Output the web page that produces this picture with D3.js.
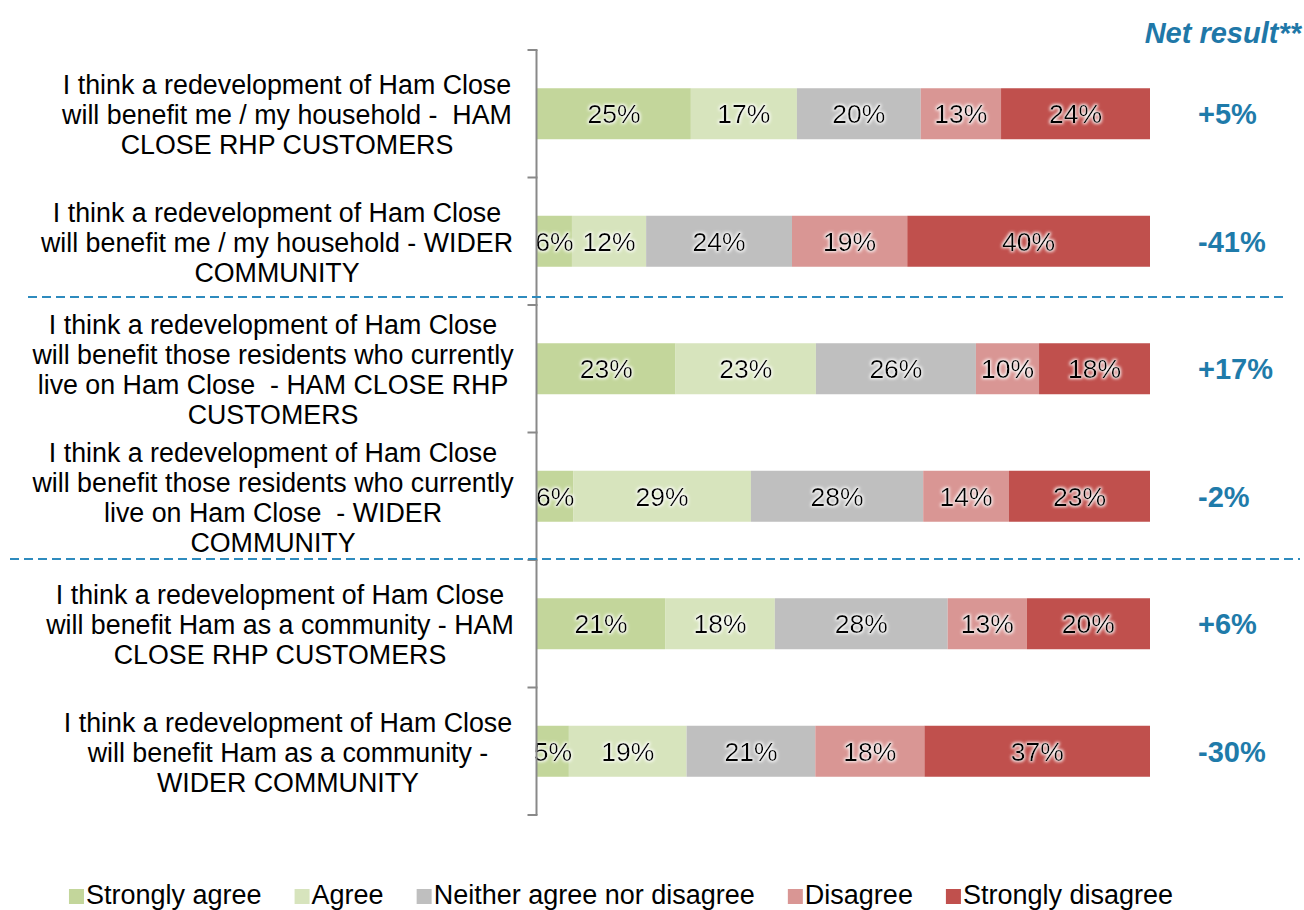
<!DOCTYPE html>
<html>
<head>
<meta charset="utf-8">
<script src="https://cdn.jsdelivr.net/npm/d3@7"></script>
<style>
  body { margin: 0; background: #fff; }
  svg { font-family: "Liberation Sans", Arial, sans-serif; }
</style>
</head>
<body>
<svg id="chart"></svg>
<script>
// statements (already wrapped as in the slide)
const categories = [
  ["I think a redevelopment of Ham Close", "will benefit me / my household -  HAM", "CLOSE RHP CUSTOMERS"],
  ["I think a redevelopment of Ham Close", "will benefit me / my household - WIDER", "COMMUNITY"],
  ["I think a redevelopment of Ham Close", "will benefit those residents who currently", "live on Ham Close  - HAM CLOSE RHP", "CUSTOMERS"],
  ["I think a redevelopment of Ham Close", "will benefit those residents who currently", "live on Ham Close  - WIDER", "COMMUNITY"],
  ["I think a redevelopment of Ham Close", "will benefit Ham as a community - HAM", "CLOSE RHP CUSTOMERS"],
  ["I think a redevelopment of Ham Close", "will benefit Ham as a community -", "WIDER COMMUNITY"]
];

const seriesNames = ["Strongly agree", "Agree", "Neither agree nor disagree", "Disagree", "Strongly disagree"];
const seriesColors = ["#C3D69B", "#D7E4BD", "#BFBFBF", "#D99694", "#C0504D"];

const stronglyAgree    = [25.1, 5.7, 22.6, 5.9, 20.9, 5.2];
const agree            = [17.3, 12.1, 22.9, 29.0, 17.9, 19.2];
const neither          = [20.2, 23.8, 26.1, 28.1, 28.2, 21.0];
const disagree         = [13.1, 18.8, 10.3, 14.0, 12.9, 17.8];
const stronglyDisagree = [24.3, 39.6, 18.1, 23.0, 20.1, 36.8];

const netResult = [5, -41, 17, -2, 6, -30];

const width = 1304, height = 910;

const svg = d3.select("#chart").attr("width", width).attr("height", height);

// glow behind the bar labels
const defs = svg.append("defs");
const glow = defs.append("filter").attr("id", "glow").attr("x", "-20%").attr("y", "-30%").attr("width", "140%").attr("height", "160%");
glow.append("feMorphology").attr("in", "SourceAlpha").attr("operator", "dilate").attr("radius", 1.3).attr("result", "d");
glow.append("feGaussianBlur").attr("in", "d").attr("stdDeviation", 1.4).attr("result", "b");
glow.append("feFlood").attr("flood-color", "#fff").attr("flood-opacity", 0.9);
glow.append("feComposite").attr("in2", "b").attr("operator", "in").attr("result", "w");
const m = glow.append("feMerge");
m.append("feMergeNode").attr("in", "w");
m.append("feMergeNode").attr("in", "SourceGraphic");

const rows = categories.map((c, i) => ({
  idx: i,
  values: [stronglyAgree[i], agree[i], neither[i], disagree[i], stronglyDisagree[i]]
}));

const x = d3.scaleLinear().domain([0, 100]).range([537, 1150]);
const y = d3.scaleBand().domain(d3.range(categories.length)).range([50, 815]).paddingInner(0).paddingOuter(0);
const barH = y.bandwidth() * 0.4;

// bars
const rowG = svg.selectAll("g.row").data(rows).enter().append("g").attr("class", "row");

rowG.each(function (r) {
  let acc = 0;
  const segs = r.values.map((v, k) => {
    const s = { start: acc, v: v, k: k };
    acc += v;
    return s;
  });
  const g = d3.select(this);
  const cy = y(r.idx) + y.bandwidth() / 2;
  g.selectAll("rect").data(segs).enter().append("rect")
    .attr("x", d => x(d.start))
    .attr("y", cy - barH / 2)
    .attr("width", d => x(d.start + d.v) - x(d.start))
    .attr("height", barH)
    .attr("fill", d => seriesColors[d.k]);
  g.selectAll("text.val").data(segs).enter().append("text")
    .attr("class", "val")
    .attr("x", d => x(d.start + d.v / 2))
    .attr("y", cy)
    .attr("dy", "0.36em")
    .attr("text-anchor", "middle")
    .attr("font-size", 26.5)
    .attr("fill", "#000")
    .attr("filter", "url(#glow)")
    .text(d => Math.round(d.v) + "%");
});

// axis line with ticks at the band edges
const axisX = 536.5;
svg.append("line")
  .attr("x1", axisX).attr("x2", axisX).attr("y1", 50).attr("y2", 815)
  .attr("stroke", "#898989").attr("stroke-width", 2);
const edges = d3.range(categories.length + 1).map(i => i < categories.length ? y(i) : y.range()[1]);
svg.selectAll("line.tick").data(edges).enter().append("line")
  .attr("class", "tick")
  .attr("x1", axisX - 9).attr("x2", axisX + 1)
  .attr("y1", d => d).attr("y2", d => d)
  .attr("stroke", "#898989").attr("stroke-width", 2);

// category labels (text boxes are not all centred on the same x)
const labelCenters = [287, 277, 273, 273, 280, 288];
const lineH = 30;
svg.selectAll("text.cat").data(rows).enter().append("text")
  .attr("class", "cat")
  .attr("text-anchor", "middle")
  .attr("font-size", 26.8)
  .attr("fill", "#000")
  .attr("xml:space", "preserve")
  .each(function (r) {
    const lines = categories[r.idx];
    const cy = y(r.idx) + y.bandwidth() / 2;
    const top = cy - (lines.length - 1) * lineH / 2;
    d3.select(this).selectAll("tspan").data(lines).enter().append("tspan")
      .attr("x", labelCenters[r.idx])
      .attr("y", (d, j) => top + j * lineH + 1)
      .attr("dy", "0.36em")
      .text(d => d);
  });

// dashed separators
const dividers = [
  { after: 2, x1: 28, x2: 1283, dy: -8 },
  { after: 4, x1: 10, x2: 1300, dy: -1 }
];
svg.selectAll("line.div").data(dividers).enter().append("line")
  .attr("class", "div")
  .attr("x1", d => d.x1).attr("x2", d => d.x2)
  .attr("y1", d => y(d.after) + d.dy).attr("y2", d => y(d.after) + d.dy)
  .attr("stroke", "#2E8BBE").attr("stroke-width", 2).attr("stroke-dasharray", "9,5");

// net result column
svg.append("text")
  .attr("x", 1301).attr("y", 43)
  .attr("text-anchor", "end")
  .attr("font-size", 29).attr("font-weight", "bold").attr("font-style", "italic")
  .attr("fill", "#1F78A8")
  .text("Net result**");

svg.selectAll("text.net").data(netResult).enter().append("text")
  .attr("class", "net")
  .attr("x", 1198)
  .attr("y", (d, i) => y(i) + y.bandwidth() / 2)
  .attr("dy", "0.36em")
  .attr("font-size", 29).attr("font-weight", "bold")
  .attr("fill", "#1F7BAA")
  .text(d => (d > 0 ? "+" : "") + d + "%");

// legend
const legend = svg.append("g");
const items = legend.selectAll("g").data(seriesNames).enter().append("g");
items.append("rect").attr("width", 15).attr("height", 15).attr("y", -15).attr("fill", (d, i) => seriesColors[i]);
items.append("text").attr("x", 17).attr("y", 0).attr("font-size", 27).attr("fill", "#000").text(d => d);
const gap = 33;
let lx = 0;
items.each(function () {
  const w = this.querySelector("text").getComputedTextLength();
  d3.select(this).attr("transform", `translate(${lx},0)`);
  lx += 17 + w + gap;
});
const total = lx - gap;
legend.attr("transform", `translate(${(66 + 1176) / 2 - total / 2},904)`);
</script>
</body>
</html>
